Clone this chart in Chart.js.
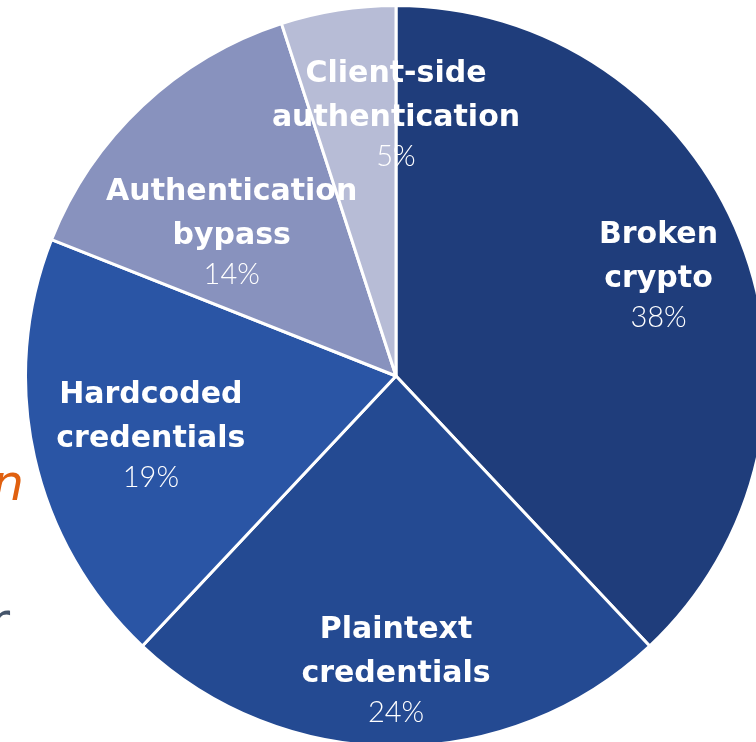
<!DOCTYPE html>
<html>
<head>
<meta charset="utf-8">
<script src="https://cdn.jsdelivr.net/npm/chart.js@4.4.1/dist/chart.umd.min.js"></script>
<style>
  html, body { margin: 0; padding: 0; width: 756px; height: 742px; overflow: hidden; background: #ffffff; }
  #wrap { position: absolute; left: 24px; top: 4px; width: 744px; height: 744px; }
  .bg { position: absolute; font-family: 'DejaVu Sans', sans-serif; font-style: italic; font-size: 50px; white-space: nowrap; line-height: 1; }
</style>
</head>
<body>
<div class="bg" id="bgN" style="color:#E0600F; right: 732px; top: 458px;">n</div>
<div class="bg" id="bgR" style="color:#44546A; right: 746px; top: 596px; font-style: normal;">r</div>
<div id="wrap"><canvas id="c" width="744" height="744"></canvas></div>
<script>
// ---- data ----
const categories = [
  ['Broken', 'crypto'],
  ['Plaintext', 'credentials'],
  ['Hardcoded', 'credentials'],
  ['Authentication', 'bypass'],
  ['Client-side', 'authentication']
];
const shares = [38, 24, 19, 14, 5];
const percentLabels = ['38%', '24%', '19%', '14%', '5%'];

// ---- style ----
const sliceColors = ['#1F3D7B', '#244A92', '#2A55A5', '#8892BE', '#B7BCD6'];
// label placement: fraction of outer radius and angle (deg, clockwise from 12 o'clock)
const labelLayout = [
  { r: 0.748, a: 71.3 },
  { r: 0.826, a: 180 },
  { r: 0.689, a: 253.8 },
  { r: 0.569, a: 308.8 },
  { r: 0.676, a: 0 }
];

const labelPlugin = {
  id: 'sliceLabels',
  afterDatasetsDraw(chart) {
    const ctx = chart.ctx;
    const meta = chart.getDatasetMeta(0);
    ctx.save();
    ctx.fillStyle = '#ffffff';
    ctx.textAlign = 'center';
    ctx.textBaseline = 'alphabetic';
    meta.data.forEach((arc, i) => {
      const L = labelLayout[i];
      const ang = (L.a - 90) * Math.PI / 180;
      const x = arc.x + Math.cos(ang) * arc.outerRadius * L.r;
      const y = arc.y + Math.sin(ang) * arc.outerRadius * L.r;
      ctx.font = 'bold 30px "DejaVu Sans", sans-serif';
      ctx.fillText(categories[i][0], x, y - 44);
      ctx.fillText(categories[i][1], x, y);
      ctx.font = '300 29px Lato, "DejaVu Sans", sans-serif';
      ctx.fillText(percentLabels[i], x, y + 40);
    });
    ctx.restore();
  }
};

new Chart(document.getElementById('c'), {
  type: 'pie',
  data: {
    labels: categories.map(c => c.join(' ')),
    datasets: [{
      data: shares,
      backgroundColor: sliceColors,
      borderColor: '#ffffff',
      borderWidth: 3,
      hoverOffset: 0,
      offset: 0
    }]
  },
  options: {
    responsive: false,
    animation: false,
    layout: { padding: 0 },
    plugins: { legend: { display: false }, tooltip: { enabled: false } }
  },
  plugins: [labelPlugin]
});
</script>
</body>
</html>
